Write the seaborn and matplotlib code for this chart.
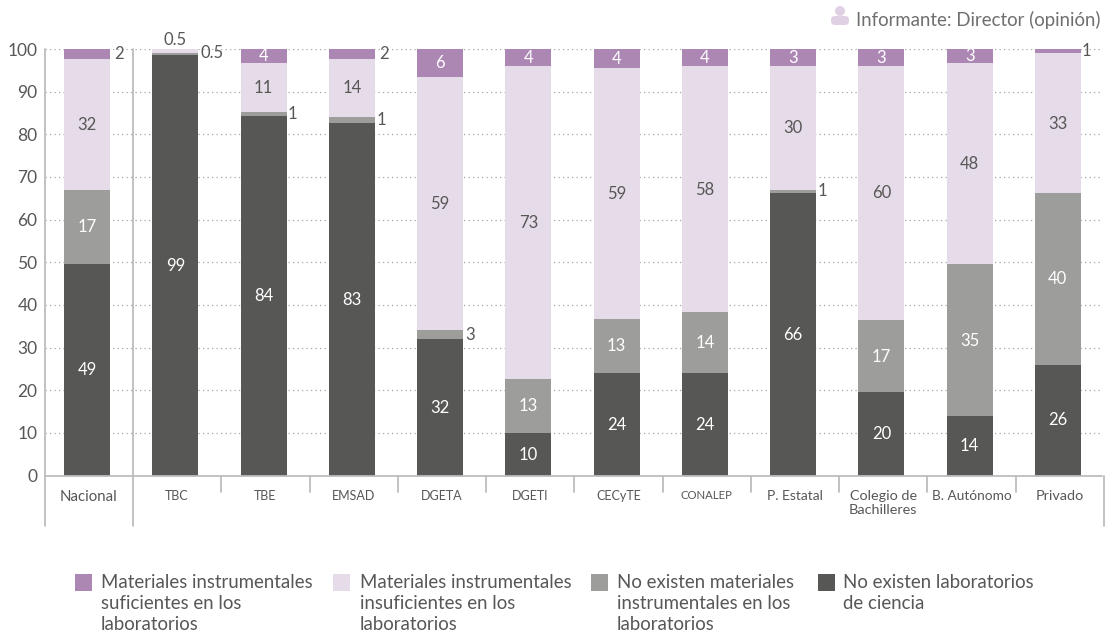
import matplotlib
matplotlib.use("Agg")
import matplotlib.pyplot as plt
from matplotlib.patches import Rectangle, Circle, FancyBboxPatch
import numpy as np
import seaborn as sns

# Data
categories = ["Nacional", "TBC", "TBE", "EMSAD", "DGETA", "DGETI", "CECyTE", "CONALEP",
              "P. Estatal", "Colegio de\nBachilleres", "B. Autónomo", "Privado"]
no_lab = [49.6, 98.6, 84.4, 82.6, 32.0, 10.0, 24.0, 24.0, 66.3, 19.5, 14.0, 26.0]
no_mat = [17.4, 0.5, 0.8, 1.4, 2.2, 12.7, 12.7, 14.3, 0.7, 17.0, 35.5, 40.2]
insuf = [30.7, 0.9, 11.5, 13.7, 59.3, 73.3, 58.8, 57.7, 29.0, 59.5, 47.3, 32.8]
suf = [2.3, 0.0, 3.3, 2.3, 6.5, 4.0, 4.5, 4.0, 4.0, 4.0, 3.2, 1.0]

# Printed labels (rounded in the source, they do not always equal the heights)
no_lab_txt = ["49", "99", "84", "83", "32", "10", "24", "24", "66", "20", "14", "26"]
no_mat_txt = ["17", "", "", "", "", "13", "13", "14", "", "17", "35", "40"]
insuf_txt = ["32", "", "11", "14", "59", "73", "59", "58", "30", "60", "48", "33"]
suf_txt = ["", "", "4", "", "6", "4", "4", "4", "3", "3", "3", ""]

outside_txt = ["2", "0.5", "0.5", "1", "1", "2", "3", "1", "1"]

series_names = ["No existen laboratorios\nde ciencia",
                "No existen materiales\ninstrumentales en los\nlaboratorios",
                "Materiales instrumentales\ninsuficientes en los\nlaboratorios",
                "Materiales instrumentales\nsuficientes en los\nlaboratorios"]
series_vals = [no_lab, no_mat, insuf, suf]
series_txt = [no_lab_txt, no_mat_txt, insuf_txt, suf_txt]
colors = ["#575756", "#9d9d9c", "#e6dbe9", "#ad87b4"]
txt_colors = ["white", "white", "#575756", "white"]

W, H = 1105, 637
TXT = "#575756"
LINE = "#bdbdbd"

sns.set_theme(style="white")
plt.rcParams["font.family"] = ["Lato", "DejaVu Sans"]

fig = plt.figure(figsize=(W / 100, H / 100), dpi=100)
ax = fig.add_axes([43 / W, 1 - 475.5 / H, 1059 / W, 426.5 / H])

# Stacked bars, one barplot call per series
bottom = np.zeros(len(categories))
for vals, col, labels, tcol in zip(series_vals, colors, series_txt, txt_colors):
    sns.barplot(x=categories, y=vals, color=col, width=0.52, saturation=1, errorbar=None,
                bottom=bottom, ax=ax, zorder=3, linewidth=0)
    for i, lab in enumerate(labels):
        if lab:
            ax.text(i, bottom[i] + vals[i] / 2 - 0.1, lab, ha="center", va="center",
                    color=tcol, fontsize=12, zorder=4)
    bottom = bottom + np.array(vals)

ax.set_xlim(-0.5, 11.5)
ax.set_ylim(0, 100)
ax.set_yticks(range(0, 101, 10))
ax.tick_params(axis="y", length=0, labelsize=12.5, labelcolor=TXT, pad=4)
ax.set_xticks([])
for s in ax.spines.values():
    s.set_visible(False)

# Dotted grid
for y in range(10, 101, 10):
    ax.axhline(y, color="#a5a5a5", lw=0.9, ls=(0, (1, 2.6)), zorder=1, xmin=0.002)

# Labels outside the bars: category index, height, x offset and y offset in pixels
outside_pos = [(0, 98.8, 32, 0), (1, 100, 0, 9), (1, 99.3, 37, -1), (2, 84.8, 29, 0),
               (3, 83.3, 30, 0), (3, 98.8, 32, 0), (4, 32.9, 30, 0), (8, 66.6, 29, 0),
               (11, 99.5, 29, 0)]
for lab, (i, y, dx, dy) in zip(outside_txt, outside_pos):
    ax.annotate(lab, (i, y), xytext=(dx * 0.72, dy * 0.72), textcoords="offset points",
                ha="center", va="center", color=TXT, fontsize=12, zorder=4, annotation_clip=False)

# Axis frame and group separators
trans = ax.get_xaxis_transform()
px = 1 / 426.5
off = 0.02
ax.plot([-0.5 + off, 11.5], [0, 0], color=LINE, lw=1.3, transform=trans, clip_on=False, zorder=5)
ax.plot([-0.5 + off, -0.5 + off], [1, -50.5 * px], color=LINE, lw=1.3, transform=trans, clip_on=False, zorder=5)
ax.plot([0.5 + off, 0.5 + off], [1, -50.5 * px], color=LINE, lw=1.3, transform=trans, clip_on=False, zorder=5)
ax.plot([11.5 + off, 11.5 + off], [0, -50.5 * px], color=LINE, lw=1.3, transform=trans, clip_on=False, zorder=5)
for i in range(1, 11):
    ax.plot([i + 0.5 + off] * 2, [0, -16 * px], color=LINE, lw=1.3, transform=trans, clip_on=False, zorder=5)

# Category names, lowercase letters of the original font run wider
cat_sizes = [10.8, 9, 9, 9, 9, 9, 9, 8.2, 10, 10.4, 9.8, 10.4]
for i, (name, fs) in enumerate(zip(categories, cat_sizes)):
    ax.text(i + 0.02, -14.5 * px, name, transform=trans, ha="center", va="top", color=TXT,
            fontsize=fs, linespacing=1.2, clip_on=False)

# Informant note with person icon
fig.text(1100 / W, 1 - 20 / H, "Informante: Director (opinión)", ha="right", va="center",
         color="#6f6f6e", fontsize=13.4)
icon = "#e0d0e4"
fig.add_artist(Circle((840, H - 11), 5, transform=None, color=icon, lw=0))
fig.add_artist(FancyBboxPatch((831, H - 25), 18, 9, boxstyle="round,pad=0,rounding_size=4",
                              transform=None, color=icon, lw=0))

# Legend built by hand, columns are not evenly spaced
legend_order = [3, 2, 1, 0]
swatch_x = [75, 333, 591, 818]
text_x = [101, 360, 617, 843]
for idx, sx, tx in zip(legend_order, swatch_x, text_x):
    fig.add_artist(Rectangle((sx / W, 1 - 591 / H), 17 / W, 17 / H, transform=fig.transFigure,
                             color=colors[idx], lw=0))
    fig.text(tx / W, 1 - 574 / H, series_names[idx], ha="left", va="top", color=TXT,
             fontsize=13.4, linespacing=1.3)

fig.savefig("out.png", dpi=100)
